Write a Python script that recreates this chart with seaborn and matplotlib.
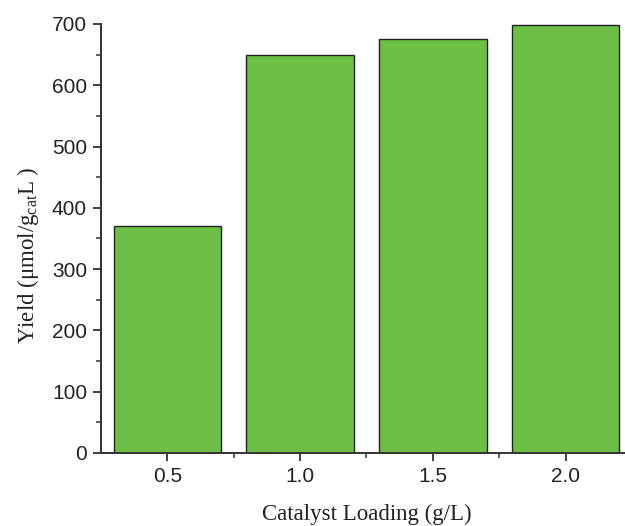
import matplotlib
matplotlib.use("Agg")
import matplotlib.pyplot as plt
from matplotlib.ticker import MultipleLocator, FixedLocator
import seaborn as sns
import pandas as pd

loading = ["0.5", "1.0", "1.5", "2.0"]
yield_vals = [370, 650, 675, 698]

sns.set_style("ticks")
plt.rcParams["font.family"] = ["Liberation Sans", "DejaVu Sans"]
plt.rcParams["mathtext.fontset"] = "custom"
plt.rcParams["mathtext.rm"] = "Liberation Serif"
plt.rcParams["mathtext.it"] = "Liberation Serif:italic"

df = pd.DataFrame({"loading": loading, "yield": yield_vals})

fig = plt.figure(figsize=(6.25, 5.26), dpi=100)
ax = fig.add_axes([0.1616, 0.1388, 0.8494, 0.8156])

sns.barplot(data=df, x="loading", y="yield", color="#6dbe45", saturation=1,
            width=0.81, edgecolor="#222222", linewidth=1.0, ax=ax)

ax.set_xlim(-0.5, 3.5)
ax.set_ylim(0, 700)
ax.yaxis.set_major_locator(MultipleLocator(100))
ax.yaxis.set_minor_locator(MultipleLocator(50))
ax.xaxis.set_minor_locator(FixedLocator([0.5, 1.5, 2.5]))

for side in ["top", "right"]:
    ax.spines[side].set_visible(False)
for side in ["left", "bottom"]:
    ax.spines[side].set_linewidth(1.4)
    ax.spines[side].set_color("#333333")

ax.tick_params(which="major", direction="out", length=6, width=1.3,
               color="#333333", labelsize=15, labelcolor="#222222", pad=4)
ax.tick_params(which="minor", direction="out", length=3.5, width=1.1,
               color="#333333")

label_font = {"family": "Liberation Serif", "size": 16.5, "color": "#222222"}
ax.set_xlabel("Catalyst Loading (g/L)", fontdict=label_font, labelpad=13)
ax.set_ylabel(r"Yield (μmol/g$_{\mathrm{cat}}$L )", fontdict=label_font)
ax.yaxis.set_label_coords(-0.113, 0.46)

fig.savefig("out.png", dpi=100)
